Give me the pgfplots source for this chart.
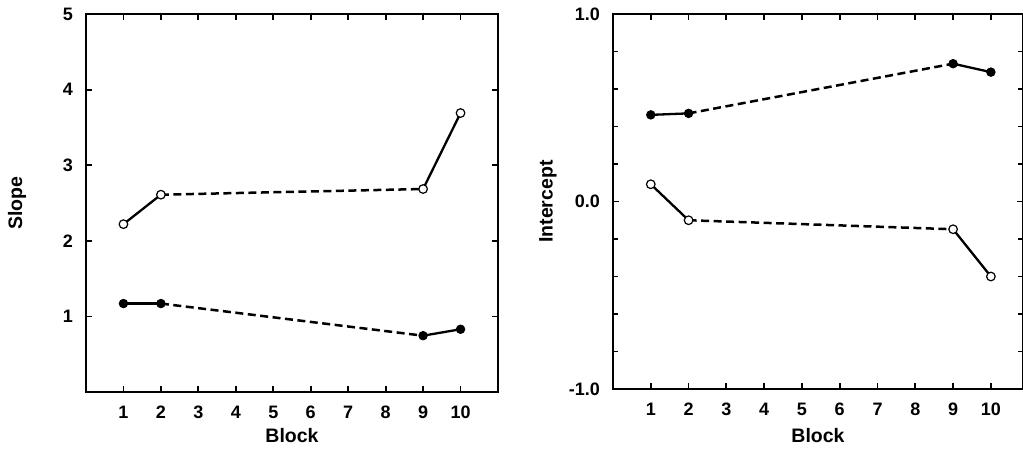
\documentclass[border=0pt]{standalone}
\usepackage{fontspec}
\setmainfont{Liberation Sans}
\usepackage{pgfplots}
\pgfplotsset{compat=1.18}
\pgfplotsset{
  common/.style={
    scale only axis, anchor=south west,
    xmin=0, xmax=11, xtick={1,...,10},
    tick align=inside, major tick length=6pt, minor tick length=5pt,
    axis line style={line width=2.2pt},
    every tick/.style={line width=1.8pt, black},
    /pgf/number format/assume math mode=true,
    tick label style={font=\fontsize{18}{18}\selectfont\bfseries},
    label style={font=\fontsize{19.5}{19.5}\selectfont\bfseries},
    xticklabel style={inner sep=0pt, anchor=north, yshift=-14pt},
    yticklabel style={inner sep=0pt, anchor=east, xshift=-13pt},
    xlabel=Block,
  },
  seg/.style={line width=2.3pt, black},
  dsh/.style={line width=2.5pt, black, dash pattern=on 8pt off 4.5pt},
  filled/.style={only marks, mark=*, mark size=4.3pt, mark options={fill=black, draw=black, line width=0.8pt}},
  open/.style={only marks, mark=*, mark size=4.3pt, mark options={fill=white, draw=black, line width=1.2pt}},
}
\begin{document}
\begin{tikzpicture}[x=1pt,y=1pt]
\path[use as bounding box] (0,0) rectangle (1023,456);
\begin{axis}[common, at={(86pt,64pt)}, width=412pt, height=378pt,
  ymin=0, ymax=5, ytick={1,2,3,4,5},
  ylabel=Slope,
  ylabel style={at={(axis description cs:0,0.5)}, anchor=center, xshift=0pt, yshift=69pt},
  xlabel style={at={(axis description cs:0.5,0)}, anchor=center, yshift=-44pt},
]
% open circles
\addplot[dsh] coordinates {(2,2.61) (9,2.685)};
\addplot[seg] coordinates {(1,2.22) (2,2.61)};
\addplot[seg] coordinates {(9,2.685) (10,3.69)};
\addplot[open] coordinates {(1,2.22) (2,2.61) (9,2.685) (10,3.69)};
% filled circles
\addplot[dsh] coordinates {(2,1.17) (9,0.745)};
\addplot[seg] coordinates {(1,1.17) (2,1.17)};
\addplot[seg] coordinates {(9,0.745) (10,0.83)};
\addplot[filled] coordinates {(1,1.17) (2,1.17) (9,0.745) (10,0.83)};
\end{axis}
\begin{axis}[common, at={(613pt,67pt)}, width=410pt, height=375pt,
  xmax=10.85,
  ymin=-1, ymax=1, ytick={-1,0,1},
  minor ytick={-0.8,-0.6,-0.4,-0.2,0.2,0.4,0.6,0.8},
  yticklabel style={/pgf/number format/.cd, fixed, fixed zerofill, precision=1},
  ylabel=Intercept,
  ylabel style={at={(axis description cs:0,0.5)}, anchor=center, xshift=0pt, yshift=65pt},
  xlabel style={at={(axis description cs:0.5,0)}, anchor=center, yshift=-47pt},
]
% filled circles
\addplot[dsh] coordinates {(2,0.47) (9,0.735)};
\addplot[seg] coordinates {(1,0.462) (2,0.47)};
\addplot[seg] coordinates {(9,0.735) (10,0.69)};
\addplot[filled] coordinates {(1,0.462) (2,0.47) (9,0.735) (10,0.69)};
% open circles
\addplot[dsh] coordinates {(2,-0.10) (9,-0.148)};
\addplot[seg] coordinates {(1,0.092) (2,-0.10)};
\addplot[seg] coordinates {(9,-0.148) (10,-0.40)};
\addplot[open] coordinates {(1,0.092) (2,-0.10) (9,-0.148) (10,-0.40)};
\end{axis}
\end{tikzpicture}
\end{document}
